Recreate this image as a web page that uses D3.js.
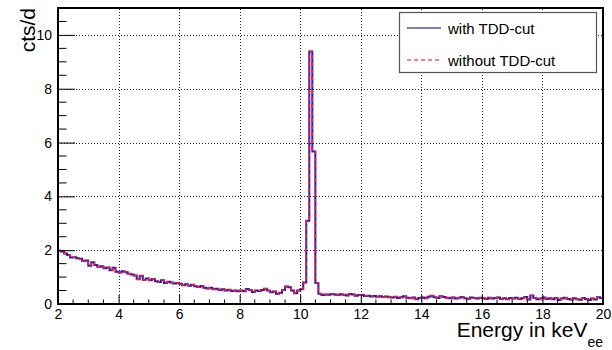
<!DOCTYPE html>
<head>
  <meta charset="utf-8">
  <script src="https://d3js.org/d3.v7.min.js"></script>
  <style>
    body { margin: 0; background: #fff; }
    svg { width: 612px; height: 350px; display: block; }
    text { font-family: "Liberation Sans", Arial, sans-serif; fill: #000; }
  </style>
</head>

<body>
  <svg></svg>
  <script>
    // bin edges: 0.1 keV bins from 2 to 20 keV
    var binStart = 2, binWidth = 0.1;
    // counts per day, one value per bin
    var withCut = [
      1.98, 1.95, 1.88, 1.82, 1.73, 1.74, 1.70, 1.68, 1.60, 1.62,
      1.42, 1.55, 1.45, 1.38, 1.40, 1.33, 1.36, 1.25, 1.35, 1.20,
      1.17, 1.22, 1.18, 1.12, 1.10, 1.06, 0.92, 1.05, 0.90, 0.95,
      0.88, 0.93, 0.85, 0.82, 0.88, 0.78, 0.83, 0.80, 0.76, 0.78,
      0.75, 0.70, 0.73, 0.68, 0.72, 0.66, 0.63, 0.67, 0.60, 0.58,
      0.60, 0.55, 0.57, 0.52, 0.55, 0.50, 0.53, 0.48, 0.50, 0.47,
      0.50, 0.47, 0.56, 0.52, 0.45, 0.50, 0.48, 0.52, 0.57, 0.50,
      0.44, 0.46, 0.38, 0.42, 0.52, 0.65, 0.62, 0.50, 0.40, 0.50,
      0.55, 0.80, 3.09, 9.38, 5.67, 0.78, 0.38, 0.33, 0.35, 0.34,
      0.37, 0.35, 0.33, 0.36, 0.34, 0.32, 0.37, 0.35, 0.31, 0.33,
      0.33, 0.30, 0.31, 0.28, 0.30, 0.27, 0.29, 0.26, 0.28, 0.25,
      0.24, 0.27, 0.22, 0.25, 0.29, 0.23, 0.21, 0.24, 0.18, 0.22,
      0.24, 0.21, 0.27, 0.31, 0.25, 0.22, 0.29, 0.26, 0.23, 0.21,
      0.24, 0.20, 0.23, 0.26, 0.21, 0.19, 0.24, 0.22, 0.20, 0.23,
      0.21, 0.19, 0.23, 0.20, 0.22, 0.24, 0.19, 0.21, 0.18, 0.22,
      0.20, 0.23, 0.19, 0.21, 0.26, 0.17, 0.32, 0.22, 0.18, 0.20,
      0.24, 0.19, 0.21, 0.18, 0.22, 0.15, 0.20, 0.23, 0.19, 0.17,
      0.21, 0.18, 0.16, 0.22, 0.19, 0.15, 0.20, 0.17, 0.25, 0.22
    ];
    // the two spectra lie on top of each other in the picture
    var withoutCut = withCut.slice();

    var xTicks = [2, 4, 6, 8, 10, 12, 14, 16, 18, 20];
    var yTicks = [0, 2, 4, 6, 8, 10];
    var legendLabels = ['with TDD-cut', 'without TDD-cut'];

    var frame = {left: 58, right: 603, top: 8, bottom: 304};
    var svg = d3.select('svg');

    var x = d3.scaleLinear().domain([2, 20]).range([frame.left, frame.right]);
    var y = d3.scaleLinear().domain([0, 11]).range([frame.bottom, frame.top]);

    // grid
    var grid = svg.append('g')
      .attr('stroke', '#222')
      .attr('stroke-width', 1)
      .attr('stroke-dasharray', '1,2');
    grid.selectAll('line.gx')
      .data(xTicks.slice(1, -1)).enter().append('line')
      .attr('x1', function(d) {return Math.round(x(d)) + 0.5})
      .attr('x2', function(d) {return Math.round(x(d)) + 0.5})
      .attr('y1', frame.bottom).attr('y2', frame.top);
    grid.selectAll('line.gy')
      .data(yTicks.slice(1)).enter().append('line')
      .attr('y1', function(d) {return Math.round(y(d)) + 0.5})
      .attr('y2', function(d) {return Math.round(y(d)) + 0.5})
      .attr('x1', frame.left).attr('x2', frame.right);

    // histograms as step lines
    function steps(values) {
      var pts = values.map(function(v, i) {return [binStart + i * binWidth, v]});
      pts.push([binStart + values.length * binWidth, values[values.length - 1]]);
      return pts;
    }
    var line = d3.line()
      .x(function(d) {return x(d[0])})
      .y(function(d) {return y(d[1])})
      .curve(d3.curveStepAfter);

    svg.append('path')
      .attr('d', line(steps(withCut)))
      .attr('fill', 'none')
      .attr('stroke', '#1c1cc8')
      .attr('stroke-width', 2);
    svg.append('path')
      .attr('d', line(steps(withoutCut)))
      .attr('fill', 'none')
      .attr('stroke', '#ff1a1a')
      .attr('stroke-width', 1.5)
      .attr('stroke-dasharray', '4,3');

    // axes: ticks point inwards, like ROOT
    var xAxis = d3.axisBottom(x)
      .tickValues(xTicks).tickSize(-9).tickPadding(6)
      .tickFormat(d3.format('d'));
    var gx = svg.append('g')
      .attr('transform', 'translate(0,' + frame.bottom + ')')
      .call(xAxis);
    gx.selectAll('.tick')
      .filter(function(d) {return d === 2 || d === 20}).select('line').remove();
    gx.selectAll('.tick text').attr('font-size', 14).attr('font-family', null)
      .attr('y', 15).attr('dy', 0);
    gx.select('.domain').remove();
    gx.selectAll('line.minor')
      .data(d3.range(2.5, 20, 0.5).filter(function(d) {return d % 2 !== 0})).enter()
      .append('line').attr('class', 'minor')
      .attr('x1', function(d) {return x(d)}).attr('x2', function(d) {return x(d)})
      .attr('y1', 0).attr('y2', -4.5)
      .attr('stroke', '#000');

    var yAxis = d3.axisLeft(y)
      .tickValues(yTicks).tickSize(-17).tickPadding(6)
      .tickFormat(d3.format('d'));
    var gy = svg.append('g')
      .attr('transform', 'translate(' + frame.left + ',0)')
      .call(yAxis);
    gy.selectAll('.tick text').attr('font-size', 14).attr('font-family', null);
    gy.selectAll('.tick').filter(function(d) {return d === 0}).select('line').remove();
    gy.select('.domain').remove();
    gy.selectAll('line.minor')
      .data(d3.range(0.5, 11, 0.5).filter(function(d) {return d % 2 !== 0})).enter()
      .append('line').attr('class', 'minor')
      .attr('y1', function(d) {return y(d)}).attr('y2', function(d) {return y(d)})
      .attr('x1', 0).attr('x2', 8.5)
      .attr('stroke', '#000');

    // frame
    svg.append('rect')
      .attr('x', frame.left).attr('y', frame.top)
      .attr('width', frame.right - frame.left).attr('height', frame.bottom - frame.top)
      .attr('fill', 'none').attr('stroke', '#000').attr('stroke-width', 2);

    // axis titles
    var xt = svg.append('text')
      .attr('x', frame.right).attr('y', 337)
      .attr('text-anchor', 'end')
      .attr('font-size', 21);
    xt.append('tspan').text('Energy in keV');
    xt.append('tspan').attr('font-size', 14).attr('dy', 10).text('ee');

    svg.append('text')
      .attr('transform', 'translate(35,' + frame.top + ')rotate(-90)')
      .attr('text-anchor', 'end')
      .attr('font-size', 21)
      .text('cts/d');

    // legend
    var lg = svg.append('g');
    lg.append('rect')
      .attr('x', 399.5).attr('y', 12.5).attr('width', 197).attr('height', 60)
      .attr('fill', '#fff').attr('stroke', '#555').attr('stroke-width', 1.2);
    var entries = lg.selectAll('g.entry')
      .data(legendLabels).enter().append('g')
      .attr('transform', function(d, i) {return 'translate(0,' + (28 + i * 32) + ')'});
    entries.append('line')
      .attr('x1', 407).attr('x2', 441).attr('y1', 0).attr('y2', 0)
      .attr('stroke', function(d, i) {return i === 0 ? '#000080' : '#ff0000'})
      .attr('stroke-dasharray', function(d, i) {return i === 0 ? null : '4,3'})
      .attr('stroke-width', 1);
    entries.append('text')
      .attr('x', 448).attr('y', 5.5)
      .attr('font-size', 15)
      .text(function(d) {return d});
  </script>
</body>
